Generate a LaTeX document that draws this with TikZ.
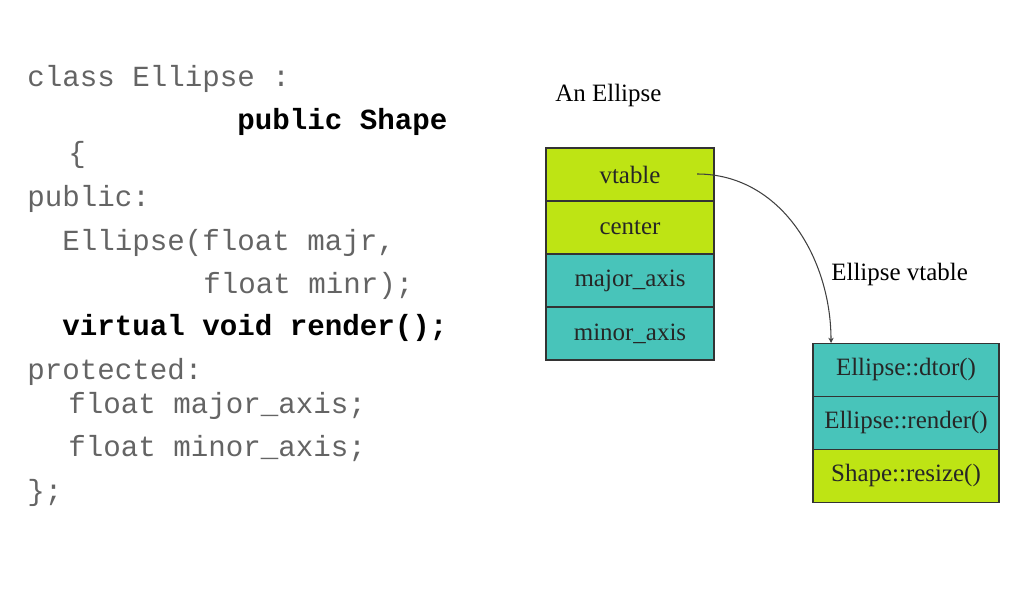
\documentclass[tikz,border=0pt]{standalone}
\usepackage{fontspec}
\setmainfont{Liberation Serif}
\setmonofont{Liberation Mono}
\usetikzlibrary{positioning,arrows.meta}
\definecolor{limefill}{RGB}{190,228,20}
\definecolor{tealfill}{RGB}{72,196,186}
\definecolor{codegray}{RGB}{100,100,100}
\tikzset{
  cell/.style={draw=black!80, line width=0.8pt, outer sep=0pt, inner sep=0pt,
    minimum width=3.36cm, minimum height=1.06cm, text=black!85,
    font=\fontsize{14.2}{17}\selectfont},
  limecell/.style={cell, fill=limefill},
  tealcell/.style={cell, fill=tealfill},
  code/.style={anchor=base west, inner sep=0pt, text=codegray,
    font=\fontsize{16.6}{20}\ttfamily},
  boldcode/.style={code, text=black, font=\fontsize{16.6}{20}\ttfamily\bfseries},
  caption/.style={anchor=base west, inner sep=0pt, font=\fontsize{14.2}{17}\selectfont}
}
\begin{document}
\begin{tikzpicture}[x=0.02cm, y=-0.02cm]
\useasboundingbox (0,0) rectangle (1016,590);
\node[code] (l1) at (27,87) {class Ellipse :};
\node[boldcode] (l2) at (237,130) {public Shape};
\node[code] (l3) at (68,163) {\{};
\node[code] (l4) at (27,207) {public:};
\node[code] (l5) at (62,251) {Ellipse(float majr,};
\node[code] (l6) at (203,294) {float minr);};
\node[boldcode] (l7) at (62,336) {virtual void render();};
\node[code] (l8) at (27,380) {protected:};
\node[code] (l9) at (68,414) {float major\_axis;};
\node[code] (l10) at (68,457) {float minor\_axis;};
\node[code] (l11) at (27,500) {\};};
\node[caption] (obj) at (555,102) {An Ellipse};
\node[limecell] (vt) at (630,174.5) {vtable};
\node[limecell, below=0pt of vt] (ce) {center};
\node[tealcell, below=0pt of ce] (ma) {major\_axis};
\node[tealcell, below=0pt of ma] (mi) {minor\_axis};
\node[caption] (tab) at (831,281) {Ellipse vtable};
\node[tealcell, minimum width=3.72cm] (dt) at (906,370) {Ellipse::dtor()};
\node[tealcell, minimum width=3.72cm, below=0pt of dt] (re) {Ellipse::render()};
\node[limecell, minimum width=3.72cm, below=0pt of re] (rs) {Shape::resize()};
\coordinate (ptr) at (697,174);
\coordinate (hook) at (831,343);
\draw[black!75, line width=0.6pt, -{Stealth[length=3pt,width=3pt]}] (ptr) to[out=0, in=90] (hook);
\end{tikzpicture}
\end{document}
